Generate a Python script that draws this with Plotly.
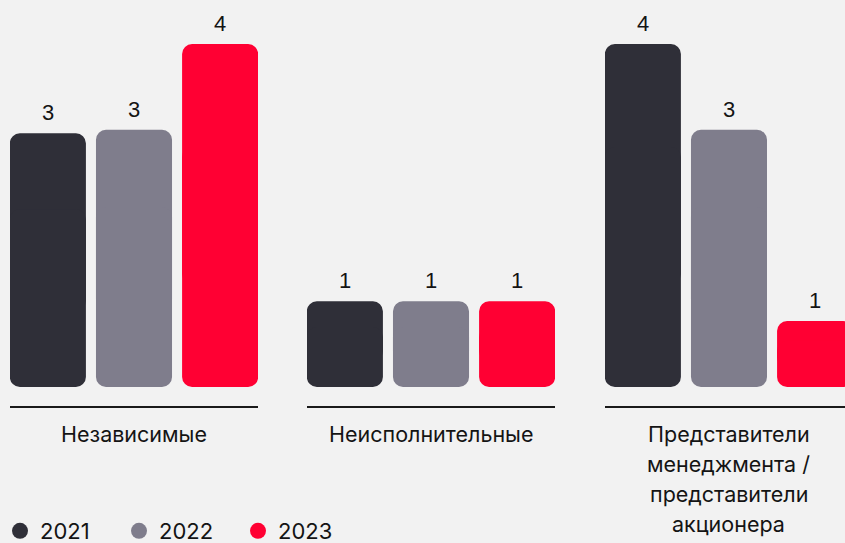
import plotly.graph_objects as go

# ---- data ----
groups = ["Независимые", "Неисполнительные", "Представители менеджмента / представители акционера"]
group_lines = [["Независимые"], ["Неисполнительные"],
               ["Представители", "менеджмента /", "представители", "акционера"]]
years = ["2021", "2022", "2023"]
colors = ["#2f2f38", "#7f7d8c", "#ff0033"]

# bar heights (per group, per year)
heights_g1 = [2.96, 3.0, 4.0]
heights_g2 = [1.0, 1.0, 1.0]
heights_g3 = [4.0, 3.0, 0.77]
# printed labels
labels_g1 = ["3", "3", "4"]
labels_g2 = ["1", "1", "1"]
labels_g3 = ["4", "3", "1"]

heights = [heights_g1, heights_g2, heights_g3]
labels = [labels_g1, labels_g2, labels_g3]

W, H = 845, 543
BG = "#f2f2f2"
TXT = "#141414"

x_domains = [[10 / W, 258 / W], [307 / W, 555 / W], [605 / W, 1.0]]
x_ranges = [[-0.44, 2.44], [-0.44, 2.44], [-0.44, (845 - 605) / 86.1 - 0.44]]
y_domain = [(H - 406) / H, (H - 10) / H]
y_range = [-0.2216, 4.397]

fig = go.Figure()

for i in range(3):
    xa = "x" if i == 0 else f"x{i+1}"
    ya = "y" if i == 0 else f"y{i+1}"
    h = heights[i]
    # upper part: rounded at the top
    fig.add_trace(go.Bar(
        x=years, y=[0.7 * v for v in h], base=[0.3 * v for v in h],
        marker=dict(color=colors, line=dict(width=0), cornerradius=10),
        xaxis=xa, yaxis=ya, showlegend=False, hoverinfo="skip"))
    # lower part: rounded at the bottom
    fig.add_trace(go.Bar(
        x=years, y=[-0.7 * v for v in h], base=[0.7 * v for v in h],
        marker=dict(color=colors, line=dict(width=0), cornerradius=10),
        xaxis=xa, yaxis=ya, showlegend=False, hoverinfo="skip"))
    # value labels
    for k, (v, lab) in enumerate(zip(h, labels[i])):
        fig.add_annotation(x=k, y=v, xref=xa, yref=ya, text=lab, showarrow=False,
                           yanchor="bottom", yshift=6,
                           font=dict(family="Liberation Sans", size=22, color=TXT))
    # group labels (centred under the middle bar)
    for k, line in enumerate(group_lines[i]):
        fig.add_annotation(x=1, xref=xa, y=1 - (434 + 30 * k) / H, yref="paper",
                           text=line, showarrow=False, yanchor="middle",
                           font=dict(family="Inter", size=21.5, color=TXT))

# legend entries
for yr, c in zip(years, colors):
    fig.add_trace(go.Scatter(x=[None], y=[None], mode="markers", name=yr,
                             marker=dict(symbol="circle", size=20, color=c)))

layout = dict(
    width=W, height=H,
    paper_bgcolor=BG, plot_bgcolor=BG,
    margin=dict(l=0, r=0, t=0, b=0, autoexpand=False),
    barmode="overlay", bargap=0.117,
    showlegend=True,
    legend=dict(orientation="h", x=0, xanchor="left", y=1 - 531 / H, yanchor="middle",
                font=dict(family="Inter", size=22, color=TXT),
                entrywidth=74, entrywidthmode="pixels", bgcolor="rgba(0,0,0,0)"),
)
for i in range(3):
    xk = "xaxis" if i == 0 else f"xaxis{i+1}"
    yk = "yaxis" if i == 0 else f"yaxis{i+1}"
    ya = "y" if i == 0 else f"y{i+1}"
    xa = "x" if i == 0 else f"x{i+1}"
    layout[xk] = dict(domain=x_domains[i], range=x_ranges[i], anchor=ya,
                      type="category", showline=True, linecolor="#1a1a1a", linewidth=1.5,
                      showticklabels=False, ticks="", showgrid=False, zeroline=False,
                      fixedrange=True)
    layout[yk] = dict(domain=y_domain, range=y_range, anchor=xa, visible=False,
                      showgrid=False, zeroline=False, fixedrange=True)
fig.update_layout(**layout)

fig.write_html("out.html",
               config={"displayModeBar": False},
               post_script="document.body.style.margin='0';"
                           "document.body.style.background='#f2f2f2';")
